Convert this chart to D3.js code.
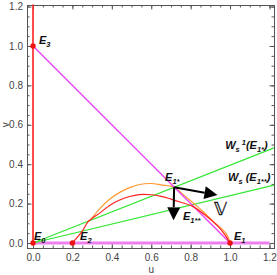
<!DOCTYPE html>
<html>
<head>
<meta charset="utf-8">
<script src="https://cdn.jsdelivr.net/npm/d3@7"></script>
<style>
  body { margin: 0; background: #fff; }
  svg { display: block; }
  .tick text { font-family: "Liberation Sans", Arial, sans-serif; font-size: 10px; fill: #444; }
  .lbl { font-family: "Liberation Sans", Arial, sans-serif; font-weight: bold; font-style: italic; fill: #111; }
</style>
</head>
<body>
<div id="chart"></div>
<script>
// tick values
var xTicks = [0, 0.2, 0.4, 0.6, 0.8, 1.0, 1.2];
var yTicks = [0, 0.2, 0.4, 0.6, 0.8, 1.0, 1.2];

// equilibria (u, v)
var E0 = [0, 0], E1 = [1, 0], E2 = [0.2, 0], E3 = [0, 1];
var E1s = [0.716, 0.283];
var equilibria = [E0, E1, E2, E3];

// red nullcline
var redCurve = [[0.2, 0], [0.25, 0.06], [0.28, 0.108], [0.34, 0.153], [0.39, 0.192], [0.44, 0.218],
  [0.49, 0.236], [0.54, 0.246], [0.6, 0.245], [0.65, 0.237], [0.7, 0.223], [0.75, 0.207],
  [0.81, 0.186], [0.873, 0.142], [0.94, 0.083], [0.975, 0.04], [1.0, 0]];

// orange curve
var orangeCurve = [[0.28, 0.108], [0.29, 0.117], [0.34, 0.176], [0.39, 0.223], [0.44, 0.257],
  [0.49, 0.281], [0.54, 0.297], [0.6, 0.302], [0.65, 0.295], [0.716, 0.283], [0.76, 0.248],
  [0.814, 0.202], [0.863, 0.16], [0.914, 0.11], [0.96, 0.07], [0.985, 0.04], [1.0, 0]];

// straight lines
var greenUpper = [[0, 0], [1.223, 0.483]];
var greenLower = [[0, 0], [1.223, 0.294]];
var magentaDiag = [[0, 1], [1, 0]];
var magentaAxis = [[0, 0], [1.2, 0]];
var redAxis = [[0, 0], [0, 1.21]];

// arrows from E1*
var arrows = [[E1s, [0.936, 0.244]], [E1s, [0.713, 0.115]]];

// labels: position (u, v) and pieces [text, kind]
var labels = [
  { at: [0.03, 1.01], parts: [["E", "n"], ["3", "sub"]] },
  { at: [0.005, 0.015], parts: [["E", "n"], ["0", "sub"]] },
  { at: [0.239, 0.015], parts: [["E", "n"], ["2", "sub"]] },
  { at: [1.02, 0.015], parts: [["E", "n"], ["1", "sub"]] },
  { at: [0.67, 0.315], parts: [["E", "n"], ["1*", "sub"]] },
  { at: [0.761, 0.117], parts: [["E", "n"], ["1**", "sub"]] },
  { at: [0.975, 0.477], parts: [["W", "n"], ["s", "sub"], [" 1", "sup"], ["(E", "n"], ["1*", "sub"], [")", "n"]] },
  { at: [0.99, 0.315], parts: [["W", "n"], ["s", "sub"], [" (E", "n"], ["1**", "sub"], [")", "n"]] }
];

var W = 277, H = 275;
var margin = { top: 5, right: 3, bottom: 27, left: 27 };
var width = W - margin.left - margin.right;
var height = H - margin.top - margin.bottom;

var x = d3.scaleLinear().domain([-0.0305, 1.223]).range([0, width]);
var y = d3.scaleLinear().domain([-0.0254, 1.208]).range([height, 0]);

var svg = d3.select("#chart").append("svg")
  .attr("width", W).attr("height", H)
  .append("g")
  .attr("transform", "translate(" + margin.left + "," + margin.top + ")");

var line = d3.line().x(function(d) { return x(d[0]); }).y(function(d) { return y(d[1]); });
var smooth = d3.line().curve(d3.curveCatmullRom).x(function(d) { return x(d[0]); }).y(function(d) { return y(d[1]); });

// frame with major and minor ticks on all sides
var minorX = d3.range(-0.0, 1.2001, 0.05);
var minorY = d3.range(0, 1.2001, 0.05);

function addAxis(axis, transform) {
  var g = svg.append("g").attr("transform", transform).call(axis);
  g.select(".domain").attr("stroke", "#555");
  g.selectAll(".tick line").attr("stroke", "#555");
  return g;
}

addAxis(d3.axisBottom(x).tickValues(minorX).tickSize(-2.5).tickFormat(""), "translate(0," + height + ")");
addAxis(d3.axisBottom(x).tickValues(xTicks).tickSize(-4.5).tickPadding(6).tickFormat(d3.format(".1f")), "translate(0," + height + ")");
addAxis(d3.axisTop(x).tickValues(minorX).tickSize(-2.5).tickFormat(""), "translate(0,0)");
addAxis(d3.axisTop(x).tickValues(xTicks).tickSize(-4.5).tickFormat(""), "translate(0,0)");
addAxis(d3.axisLeft(y).tickValues(minorY).tickSize(-2.5).tickFormat(""), "translate(0,0)");
addAxis(d3.axisLeft(y).tickValues(yTicks).tickSize(-4.5).tickPadding(4).tickFormat(d3.format(".1f")), "translate(0,0)");
addAxis(d3.axisRight(y).tickValues(minorY).tickSize(-2.5).tickFormat(""), "translate(" + width + ",0)");
addAxis(d3.axisRight(y).tickValues(yTicks).tickSize(-4.5).tickFormat(""), "translate(" + width + ",0)");

// axis titles
svg.append("text").attr("x", x(0.6)).attr("y", height + 25)
  .attr("text-anchor", "middle").attr("font-family", "Liberation Sans, Arial, sans-serif")
  .attr("font-size", 10).attr("fill", "#444").text("u");
svg.append("text").attr("transform", "translate(" + (-18) + "," + y(0.6) + ") rotate(-90)")
  .attr("text-anchor", "middle").attr("font-family", "Liberation Sans, Arial, sans-serif")
  .attr("font-size", 10).attr("fill", "#444").text("v");

var plot = svg.append("g");

// lines
plot.append("path").datum(magentaAxis).attr("d", line).attr("fill", "none").attr("stroke", "#ee7fee").attr("stroke-width", 3);
plot.append("path").datum(greenUpper).attr("d", line).attr("fill", "none").attr("stroke", "#33e633").attr("stroke-width", 1.2);
plot.append("path").datum(greenLower).attr("d", line).attr("fill", "none").attr("stroke", "#33e633").attr("stroke-width", 1.2);
plot.append("path").datum(orangeCurve).attr("d", smooth).attr("fill", "none").attr("stroke", "#ff9933").attr("stroke-width", 1.2);
plot.append("path").datum(magentaDiag).attr("d", line).attr("fill", "none").attr("stroke", "#e645f0").attr("stroke-width", 1.4);
plot.append("path").datum(redCurve).attr("d", smooth).attr("fill", "none").attr("stroke", "#ff2222").attr("stroke-width", 1.2);
plot.append("path").datum(redAxis).attr("d", line).attr("fill", "none").attr("stroke", "#ff2020").attr("stroke-width", 1.6);

// equilibria points
plot.selectAll(".eq").data(equilibria).enter().append("circle")
  .attr("class", "eq")
  .attr("cx", function(d) { return x(d[0]); })
  .attr("cy", function(d) { return y(d[1]); })
  .attr("r", 2.7)
  .attr("fill", "#ee1111");

// arrows
arrows.forEach(function(a) {
  var x0 = x(a[0][0]), y0 = y(a[0][1]), x1 = x(a[1][0]), y1 = y(a[1][1]);
  var dx = x1 - x0, dy = y1 - y0, len = Math.sqrt(dx * dx + dy * dy);
  var ux = dx / len, uy = dy / len, hl = 13, hw = 6.5;
  var bx = x1 - ux * hl, by = y1 - uy * hl;
  plot.append("line").attr("x1", x0).attr("y1", y0).attr("x2", bx).attr("y2", by)
    .attr("stroke", "#000").attr("stroke-width", 2);
  plot.append("polygon")
    .attr("points", [[x1, y1], [bx - uy * hw, by + ux * hw], [bx + uy * hw, by - ux * hw]].join(" "))
    .attr("fill", "#000");
});

// labels
labels.forEach(function(l) {
  var t = plot.append("text").attr("class", "lbl")
    .attr("x", x(l.at[0])).attr("y", y(l.at[1])).attr("font-size", 11);
  var shift = 0;
  l.parts.forEach(function(p) {
    var target = p[1] === "sub" ? 3 : (p[1] === "sup" ? -4 : 0);
    t.append("tspan")
      .attr("font-size", p[1] === "n" ? 11 : 7.5)
      .attr("dy", target - shift)
      .text(p[0]);
    shift = target;
  });
});

// double-struck V
plot.append("text").attr("x", x(0.918)).attr("y", y(0.14))
  .attr("font-family", "DejaVu Sans, sans-serif").attr("font-size", 18).attr("fill", "#111")
  .attr("stroke", "#111").attr("stroke-width", 0.3)
  .text("\u{1D54D}");
</script>
</body>
</html>
